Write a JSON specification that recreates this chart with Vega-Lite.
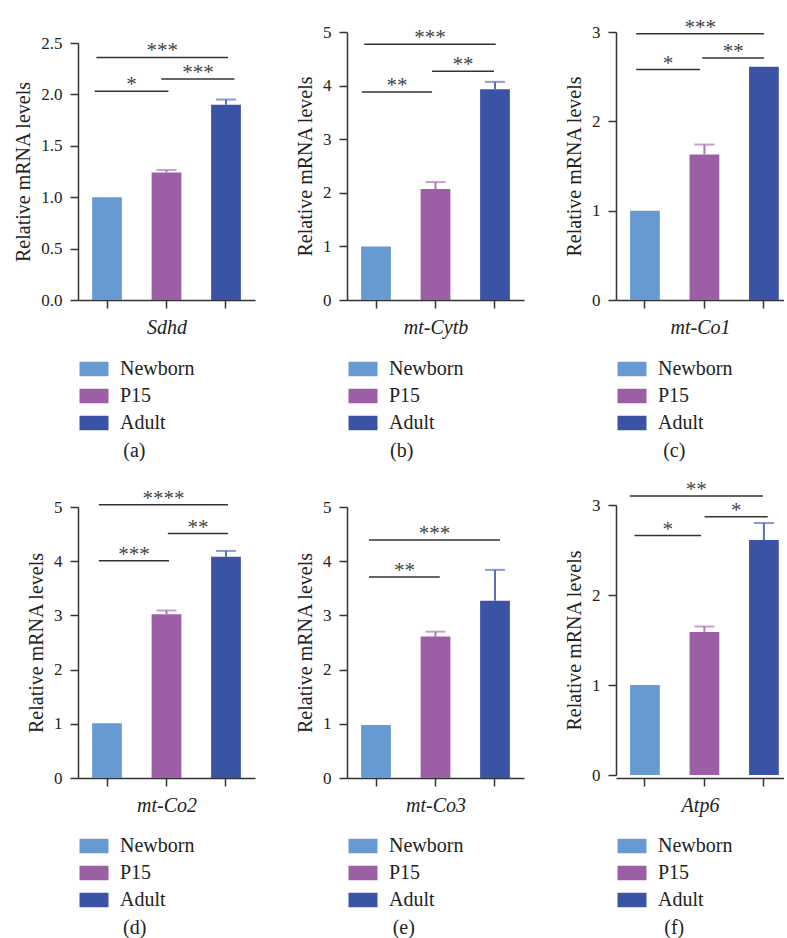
{
 "$schema": "https://vega.github.io/schema/vega-lite/v6.json",
 "padding": {"left": 13, "top": 16, "right": 0, "bottom": 0},
 "background": "white",
 "datasets": {
  "bars": [
   {"panel":"a","group":"Newborn","value":1.0,"upper":1.0},
   {"panel":"a","group":"P15","value":1.24,"upper":1.265},
   {"panel":"a","group":"Adult","value":1.9,"upper":1.95},
   {"panel":"b","group":"Newborn","value":1.0,"upper":1.0},
   {"panel":"b","group":"P15","value":2.07,"upper":2.2},
   {"panel":"b","group":"Adult","value":3.93,"upper":4.07},
   {"panel":"c","group":"Newborn","value":1.0,"upper":1.0},
   {"panel":"c","group":"P15","value":1.63,"upper":1.74},
   {"panel":"c","group":"Adult","value":2.61,"upper":2.61},
   {"panel":"d","group":"Newborn","value":1.01,"upper":1.01},
   {"panel":"d","group":"P15","value":3.02,"upper":3.09},
   {"panel":"d","group":"Adult","value":4.08,"upper":4.19},
   {"panel":"e","group":"Newborn","value":0.98,"upper":0.98},
   {"panel":"e","group":"P15","value":2.61,"upper":2.7},
   {"panel":"e","group":"Adult","value":3.27,"upper":3.84},
   {"panel":"f","group":"Newborn","value":1.0,"upper":1.0},
   {"panel":"f","group":"P15","value":1.59,"upper":1.65},
   {"panel":"f","group":"Adult","value":2.61,"upper":2.8}
  ],
  "sig": [
   {"panel":"a","x1":0.28,"x2":1.52,"mid":0.9,"y":2.03,"label":"*"},
   {"panel":"a","x1":0.31,"x2":2.52,"mid":1.415,"y":2.36,"label":"***"},
   {"panel":"a","x1":1.4,"x2":2.63,"mid":2.015,"y":2.15,"label":"***"},
   {"panel":"b","x1":0.25,"x2":1.43,"mid":0.84,"y":3.88,"label":"**"},
   {"panel":"b","x1":0.29,"x2":2.5,"mid":1.395,"y":4.77,"label":"***"},
   {"panel":"b","x1":1.43,"x2":2.47,"mid":1.95,"y":4.27,"label":"**"},
   {"panel":"c","x1":0.34,"x2":1.41,"mid":0.875,"y":2.58,"label":"*"},
   {"panel":"c","x1":0.34,"x2":2.49,"mid":1.415,"y":2.98,"label":"***"},
   {"panel":"c","x1":1.45,"x2":2.49,"mid":1.97,"y":2.71,"label":"**"},
   {"panel":"d","x1":0.35,"x2":1.53,"mid":0.94,"y":4.01,"label":"***"},
   {"panel":"d","x1":0.35,"x2":2.52,"mid":1.435,"y":5.04,"label":"****"},
   {"panel":"d","x1":1.51,"x2":2.52,"mid":2.015,"y":4.51,"label":"**"},
   {"panel":"e","x1":0.37,"x2":1.56,"mid":0.965,"y":3.71,"label":"**"},
   {"panel":"e","x1":0.37,"x2":2.57,"mid":1.47,"y":4.39,"label":"***"},
   {"panel":"f","x1":0.31,"x2":1.43,"mid":0.87,"y":2.66,"label":"*"},
   {"panel":"f","x1":0.23,"x2":2.47,"mid":1.35,"y":3.1,"label":"**"},
   {"panel":"f","x1":1.49,"x2":2.55,"mid":2.02,"y":2.87,"label":"*"}
  ]
 },
 "columns": 3,
 "spacing": {"row": 204, "column": 92},
 "bounds": "flush",
 "align": "all",
 "concat": [
  {
   "width": 177, "height": 268,
   "title": {"text": "(a)", "orient": "bottom", "anchor": "middle", "frame": "bounds", "offset": 8, "font": "Liberation Serif", "fontSize": 20, "fontWeight": "normal", "color": "#222"},
   "layer": [
    {"data": {"name": "bars"}, "transform": [{"filter": "datum.panel === 'a'"}],
     "layer": [
      {"mark": {"type": "bar"}, "encoding": {
        "x": {"field": "group", "type": "nominal", "sort": ["Newborn","P15","Adult"], "scale": {"domain": ["Newborn","P15","Adult"], "paddingInner": 0.5, "paddingOuter": 0.2375}, "axis": {"title": "Sdhd"}},
        "y": {"field": "value", "type": "quantitative", "scale": {"domain": [0, 2.5], "range": [268, 11], "nice": false}, "axis": {"title": "Relative mRNA levels", "values": [0, 0.5, 1, 1.5, 2, 2.5], "format": ".1f"}},
        "color": {"field": "group", "type": "nominal", "scale": {"domain": ["Newborn","P15","Adult"], "range": ["#689ad2","#9c5fa6","#3a53a4"]}, "legend": {"legendX": 6, "legendY": 327}}
      }},
      {"transform": [{"filter": "datum.upper > datum.value"}], "mark": {"type": "rule", "strokeWidth": 2}, "encoding": {
        "x": {"field": "group", "type": "nominal", "sort": ["Newborn","P15","Adult"]},
        "y": {"field": "value", "type": "quantitative"}, "y2": {"field": "upper"},
        "stroke": {"field": "group", "type": "nominal", "scale": {"domain": ["Newborn","P15","Adult"], "range": ["#7aa6d8","#ac78b8","#5670bd"]}, "legend": null}
      }},
      {"transform": [{"filter": "datum.upper > datum.value"}], "mark": {"type": "tick", "size": 20, "thickness": 2}, "encoding": {
        "x": {"field": "group", "type": "nominal", "sort": ["Newborn","P15","Adult"]},
        "y": {"field": "upper", "type": "quantitative"},
        "fill": {"field": "group", "type": "nominal", "scale": {"domain": ["Newborn","P15","Adult"], "range": ["#7aa6d8","#ac78b8","#5670bd"]}, "legend": null}
      }}
     ]},
    {"data": {"name": "sig"}, "transform": [{"filter": "datum.panel === 'a'"}],
     "layer": [
      {"mark": {"type": "rule", "strokeWidth": 1.5, "color": "#333"}, "encoding": {
        "x": {"field": "x1", "type": "quantitative", "scale": {"domain": [0, 2.975], "nice": false, "zero": false}, "axis": null},
        "x2": {"field": "x2"}, "y": {"field": "y", "type": "quantitative"}}},
      {"mark": {"type": "text", "dy": -6, "fontSize": 21, "color": "#444"}, "encoding": {
        "x": {"field": "mid", "type": "quantitative", "axis": null},
        "y": {"field": "y", "type": "quantitative"}, "text": {"field": "label"}}}
     ]}
   ],
   "resolve": {"scale": {"x": "independent"}}
  },
  {
   "width": 177, "height": 268,
   "title": {"text": "(b)", "orient": "bottom", "anchor": "middle", "frame": "bounds", "offset": 8, "dx": -8, "font": "Liberation Serif", "fontSize": 20, "fontWeight": "normal", "color": "#222"},
   "layer": [
    {"data": {"name": "bars"}, "transform": [{"filter": "datum.panel === 'b'"}],
     "layer": [
      {"mark": {"type": "bar"}, "encoding": {
        "x": {"field": "group", "type": "nominal", "sort": ["Newborn","P15","Adult"], "scale": {"domain": ["Newborn","P15","Adult"], "paddingInner": 0.5, "paddingOuter": 0.2375}, "axis": {"title": "mt-Cytb"}},
        "y": {"field": "value", "type": "quantitative", "scale": {"domain": [0, 5], "nice": false}, "axis": {"title": "Relative mRNA levels", "values": [0, 1, 2, 3, 4, 5], "format": "d"}},
        "color": {"field": "group", "type": "nominal", "scale": {"domain": ["Newborn","P15","Adult"], "range": ["#689ad2","#9c5fa6","#3a53a4"]}, "legend": {"legendX": 6, "legendY": 327}}
      }},
      {"transform": [{"filter": "datum.upper > datum.value"}], "mark": {"type": "rule", "strokeWidth": 2}, "encoding": {
        "x": {"field": "group", "type": "nominal", "sort": ["Newborn","P15","Adult"]},
        "y": {"field": "value", "type": "quantitative"}, "y2": {"field": "upper"},
        "stroke": {"field": "group", "type": "nominal", "scale": {"domain": ["Newborn","P15","Adult"], "range": ["#7aa6d8","#ac78b8","#5670bd"]}, "legend": null}
      }},
      {"transform": [{"filter": "datum.upper > datum.value"}], "mark": {"type": "tick", "size": 20, "thickness": 2}, "encoding": {
        "x": {"field": "group", "type": "nominal", "sort": ["Newborn","P15","Adult"]},
        "y": {"field": "upper", "type": "quantitative"},
        "fill": {"field": "group", "type": "nominal", "scale": {"domain": ["Newborn","P15","Adult"], "range": ["#7aa6d8","#ac78b8","#5670bd"]}, "legend": null}
      }}
     ]},
    {"data": {"name": "sig"}, "transform": [{"filter": "datum.panel === 'b'"}],
     "layer": [
      {"mark": {"type": "rule", "strokeWidth": 1.5, "color": "#333"}, "encoding": {
        "x": {"field": "x1", "type": "quantitative", "scale": {"domain": [0, 2.975], "nice": false, "zero": false}, "axis": null},
        "x2": {"field": "x2"}, "y": {"field": "y", "type": "quantitative"}}},
      {"mark": {"type": "text", "dy": -6, "fontSize": 21, "color": "#444"}, "encoding": {
        "x": {"field": "mid", "type": "quantitative", "axis": null},
        "y": {"field": "y", "type": "quantitative"}, "text": {"field": "label"}}}
     ]}
   ],
   "resolve": {"scale": {"x": "independent"}}
  },
  {
   "width": 168, "height": 268,
   "title": {"text": "(c)", "orient": "bottom", "anchor": "middle", "frame": "bounds", "offset": 8, "font": "Liberation Serif", "fontSize": 20, "fontWeight": "normal", "color": "#222"},
   "layer": [
    {"data": {"name": "bars"}, "transform": [{"filter": "datum.panel === 'c'"}],
     "layer": [
      {"mark": {"type": "bar"}, "encoding": {
        "x": {"field": "group", "type": "nominal", "sort": ["Newborn","P15","Adult"], "scale": {"domain": ["Newborn","P15","Adult"], "paddingInner": 0.5, "paddingOuter": 0.162, "align": 0.73}, "axis": {"title": "mt-Co1"}},
        "y": {"field": "value", "type": "quantitative", "scale": {"domain": [0, 3], "nice": false}, "axis": {"title": "Relative mRNA levels", "values": [0, 1, 2, 3], "format": "d"}},
        "color": {"field": "group", "type": "nominal", "scale": {"domain": ["Newborn","P15","Adult"], "range": ["#689ad2","#9c5fa6","#3a53a4"]}, "legend": {"legendX": 6, "legendY": 327}}
      }},
      {"transform": [{"filter": "datum.upper > datum.value"}], "mark": {"type": "rule", "strokeWidth": 2}, "encoding": {
        "x": {"field": "group", "type": "nominal", "sort": ["Newborn","P15","Adult"]},
        "y": {"field": "value", "type": "quantitative"}, "y2": {"field": "upper"},
        "stroke": {"field": "group", "type": "nominal", "scale": {"domain": ["Newborn","P15","Adult"], "range": ["#7aa6d8","#ac78b8","#5670bd"]}, "legend": null}
      }},
      {"transform": [{"filter": "datum.upper > datum.value"}], "mark": {"type": "tick", "size": 20, "thickness": 2}, "encoding": {
        "x": {"field": "group", "type": "nominal", "sort": ["Newborn","P15","Adult"]},
        "y": {"field": "upper", "type": "quantitative"},
        "fill": {"field": "group", "type": "nominal", "scale": {"domain": ["Newborn","P15","Adult"], "range": ["#7aa6d8","#ac78b8","#5670bd"]}, "legend": null}
      }}
     ]},
    {"data": {"name": "sig"}, "transform": [{"filter": "datum.panel === 'c'"}],
     "layer": [
      {"mark": {"type": "rule", "strokeWidth": 1.5, "color": "#333"}, "encoding": {
        "x": {"field": "x1", "type": "quantitative", "scale": {"domain": [0, 2.824], "nice": false, "zero": false}, "axis": null},
        "x2": {"field": "x2"}, "y": {"field": "y", "type": "quantitative"}}},
      {"mark": {"type": "text", "dy": -6, "fontSize": 21, "color": "#444"}, "encoding": {
        "x": {"field": "mid", "type": "quantitative", "axis": null},
        "y": {"field": "y", "type": "quantitative"}, "text": {"field": "label"}}}
     ]}
   ],
   "resolve": {"scale": {"x": "independent"}}
  },
  {
   "width": 177, "height": 271,
   "title": {"text": "(d)", "orient": "bottom", "anchor": "middle", "frame": "bounds", "offset": 8, "dx": -6, "font": "Liberation Serif", "fontSize": 20, "fontWeight": "normal", "color": "#222"},
   "layer": [
    {"data": {"name": "bars"}, "transform": [{"filter": "datum.panel === 'd'"}],
     "layer": [
      {"mark": {"type": "bar"}, "encoding": {
        "x": {"field": "group", "type": "nominal", "sort": ["Newborn","P15","Adult"], "scale": {"domain": ["Newborn","P15","Adult"], "paddingInner": 0.5, "paddingOuter": 0.2375}, "axis": {"title": "mt-Co2"}},
        "y": {"field": "value", "type": "quantitative", "scale": {"domain": [0, 5], "nice": false}, "axis": {"title": "Relative mRNA levels", "values": [0, 1, 2, 3, 4, 5], "format": "d"}},
        "color": {"field": "group", "type": "nominal", "scale": {"domain": ["Newborn","P15","Adult"], "range": ["#689ad2","#9c5fa6","#3a53a4"]}, "legend": {"legendX": 6, "legendY": 329}}
      }},
      {"transform": [{"filter": "datum.upper > datum.value"}], "mark": {"type": "rule", "strokeWidth": 2}, "encoding": {
        "x": {"field": "group", "type": "nominal", "sort": ["Newborn","P15","Adult"]},
        "y": {"field": "value", "type": "quantitative"}, "y2": {"field": "upper"},
        "stroke": {"field": "group", "type": "nominal", "scale": {"domain": ["Newborn","P15","Adult"], "range": ["#7aa6d8","#ac78b8","#5670bd"]}, "legend": null}
      }},
      {"transform": [{"filter": "datum.upper > datum.value"}], "mark": {"type": "tick", "size": 20, "thickness": 2}, "encoding": {
        "x": {"field": "group", "type": "nominal", "sort": ["Newborn","P15","Adult"]},
        "y": {"field": "upper", "type": "quantitative"},
        "fill": {"field": "group", "type": "nominal", "scale": {"domain": ["Newborn","P15","Adult"], "range": ["#7aa6d8","#ac78b8","#5670bd"]}, "legend": null}
      }}
     ]},
    {"data": {"name": "sig"}, "transform": [{"filter": "datum.panel === 'd'"}],
     "layer": [
      {"mark": {"type": "rule", "strokeWidth": 1.5, "color": "#333"}, "encoding": {
        "x": {"field": "x1", "type": "quantitative", "scale": {"domain": [0, 2.975], "nice": false, "zero": false}, "axis": null},
        "x2": {"field": "x2"}, "y": {"field": "y", "type": "quantitative"}}},
      {"mark": {"type": "text", "dy": -6, "fontSize": 21, "color": "#444"}, "encoding": {
        "x": {"field": "mid", "type": "quantitative", "axis": null},
        "y": {"field": "y", "type": "quantitative"}, "text": {"field": "label"}}}
     ]}
   ],
   "resolve": {"scale": {"x": "independent"}}
  },
  {
   "width": 177, "height": 271,
   "title": {"text": "(e)", "orient": "bottom", "anchor": "middle", "frame": "bounds", "offset": 8, "dx": -6, "font": "Liberation Serif", "fontSize": 20, "fontWeight": "normal", "color": "#222"},
   "layer": [
    {"data": {"name": "bars"}, "transform": [{"filter": "datum.panel === 'e'"}],
     "layer": [
      {"mark": {"type": "bar"}, "encoding": {
        "x": {"field": "group", "type": "nominal", "sort": ["Newborn","P15","Adult"], "scale": {"domain": ["Newborn","P15","Adult"], "paddingInner": 0.5, "paddingOuter": 0.2375}, "axis": {"title": "mt-Co3"}},
        "y": {"field": "value", "type": "quantitative", "scale": {"domain": [0, 5], "nice": false}, "axis": {"title": "Relative mRNA levels", "values": [0, 1, 2, 3, 4, 5], "format": "d"}},
        "color": {"field": "group", "type": "nominal", "scale": {"domain": ["Newborn","P15","Adult"], "range": ["#689ad2","#9c5fa6","#3a53a4"]}, "legend": {"legendX": 6, "legendY": 329}}
      }},
      {"transform": [{"filter": "datum.upper > datum.value"}], "mark": {"type": "rule", "strokeWidth": 2}, "encoding": {
        "x": {"field": "group", "type": "nominal", "sort": ["Newborn","P15","Adult"]},
        "y": {"field": "value", "type": "quantitative"}, "y2": {"field": "upper"},
        "stroke": {"field": "group", "type": "nominal", "scale": {"domain": ["Newborn","P15","Adult"], "range": ["#7aa6d8","#ac78b8","#5670bd"]}, "legend": null}
      }},
      {"transform": [{"filter": "datum.upper > datum.value"}], "mark": {"type": "tick", "size": 20, "thickness": 2}, "encoding": {
        "x": {"field": "group", "type": "nominal", "sort": ["Newborn","P15","Adult"]},
        "y": {"field": "upper", "type": "quantitative"},
        "fill": {"field": "group", "type": "nominal", "scale": {"domain": ["Newborn","P15","Adult"], "range": ["#7aa6d8","#ac78b8","#5670bd"]}, "legend": null}
      }}
     ]},
    {"data": {"name": "sig"}, "transform": [{"filter": "datum.panel === 'e'"}],
     "layer": [
      {"mark": {"type": "rule", "strokeWidth": 1.5, "color": "#333"}, "encoding": {
        "x": {"field": "x1", "type": "quantitative", "scale": {"domain": [0, 2.975], "nice": false, "zero": false}, "axis": null},
        "x2": {"field": "x2"}, "y": {"field": "y", "type": "quantitative"}}},
      {"mark": {"type": "text", "dy": -6, "fontSize": 21, "color": "#444"}, "encoding": {
        "x": {"field": "mid", "type": "quantitative", "axis": null},
        "y": {"field": "y", "type": "quantitative"}, "text": {"field": "label"}}}
     ]}
   ],
   "resolve": {"scale": {"x": "independent"}}
  },
  {
   "width": 168, "height": 271,
   "title": {"text": "(f)", "orient": "bottom", "anchor": "middle", "frame": "bounds", "offset": 8, "font": "Liberation Serif", "fontSize": 20, "fontWeight": "normal", "color": "#222"},
   "layer": [
    {"data": {"name": "bars"}, "transform": [{"filter": "datum.panel === 'f'"}],
     "layer": [
      {"mark": {"type": "bar"}, "encoding": {
        "x": {"field": "group", "type": "nominal", "sort": ["Newborn","P15","Adult"], "scale": {"domain": ["Newborn","P15","Adult"], "paddingInner": 0.5, "paddingOuter": 0.162, "align": 0.73}, "axis": {"title": "Atp6"}},
        "y": {"field": "value", "type": "quantitative", "scale": {"domain": [0, 3], "range": [268, -2], "nice": false}, "axis": {"title": "Relative mRNA levels", "values": [0, 1, 2, 3], "format": "d"}},
        "color": {"field": "group", "type": "nominal", "scale": {"domain": ["Newborn","P15","Adult"], "range": ["#689ad2","#9c5fa6","#3a53a4"]}, "legend": {"legendX": 6, "legendY": 329}}
      }},
      {"transform": [{"filter": "datum.upper > datum.value"}], "mark": {"type": "rule", "strokeWidth": 2}, "encoding": {
        "x": {"field": "group", "type": "nominal", "sort": ["Newborn","P15","Adult"]},
        "y": {"field": "value", "type": "quantitative"}, "y2": {"field": "upper"},
        "stroke": {"field": "group", "type": "nominal", "scale": {"domain": ["Newborn","P15","Adult"], "range": ["#7aa6d8","#ac78b8","#5670bd"]}, "legend": null}
      }},
      {"transform": [{"filter": "datum.upper > datum.value"}], "mark": {"type": "tick", "size": 20, "thickness": 2}, "encoding": {
        "x": {"field": "group", "type": "nominal", "sort": ["Newborn","P15","Adult"]},
        "y": {"field": "upper", "type": "quantitative"},
        "fill": {"field": "group", "type": "nominal", "scale": {"domain": ["Newborn","P15","Adult"], "range": ["#7aa6d8","#ac78b8","#5670bd"]}, "legend": null}
      }}
     ]},
    {"data": {"name": "sig"}, "transform": [{"filter": "datum.panel === 'f'"}],
     "layer": [
      {"mark": {"type": "rule", "strokeWidth": 1.5, "color": "#333"}, "encoding": {
        "x": {"field": "x1", "type": "quantitative", "scale": {"domain": [0, 2.824], "nice": false, "zero": false}, "axis": null},
        "x2": {"field": "x2"}, "y": {"field": "y", "type": "quantitative"}}},
      {"mark": {"type": "text", "dy": -6, "fontSize": 21, "color": "#444"}, "encoding": {
        "x": {"field": "mid", "type": "quantitative", "axis": null},
        "y": {"field": "y", "type": "quantitative"}, "text": {"field": "label"}}}
     ]}
   ],
   "resolve": {"scale": {"x": "independent"}}
  }
 ],
 "resolve": {"scale": {"color": "independent"}, "legend": {"color": "independent"}},
 "config": {
  "font": "Liberation Serif",
  "view": {"stroke": null},
  "axis": {"domainColor": "#333", "domainWidth": 1.5, "tickColor": "#333", "tickWidth": 1.5, "tickSize": 8, "labelFont": "Liberation Serif", "labelFontSize": 17, "labelColor": "#222", "labelPadding": 8, "titleFont": "Liberation Serif", "titleFontSize": 20, "titleFontWeight": "normal", "titleColor": "#222", "titlePadding": 7, "grid": false},
  "axisX": {"labels": false, "titlePadding": 9, "titleFontStyle": "italic"},
  "legend": {"orient": "none", "title": null, "symbolType": "M-2,-1H2V1H-2Z", "symbolSize": 210, "symbolStrokeWidth": 0, "symbolOpacity": 1, "labelFont": "Liberation Serif", "labelFontSize": 20, "labelColor": "#222", "labelOffset": 16, "rowPadding": 7, "padding": 0},
  "text": {"font": "Liberation Serif"}
 }
}
